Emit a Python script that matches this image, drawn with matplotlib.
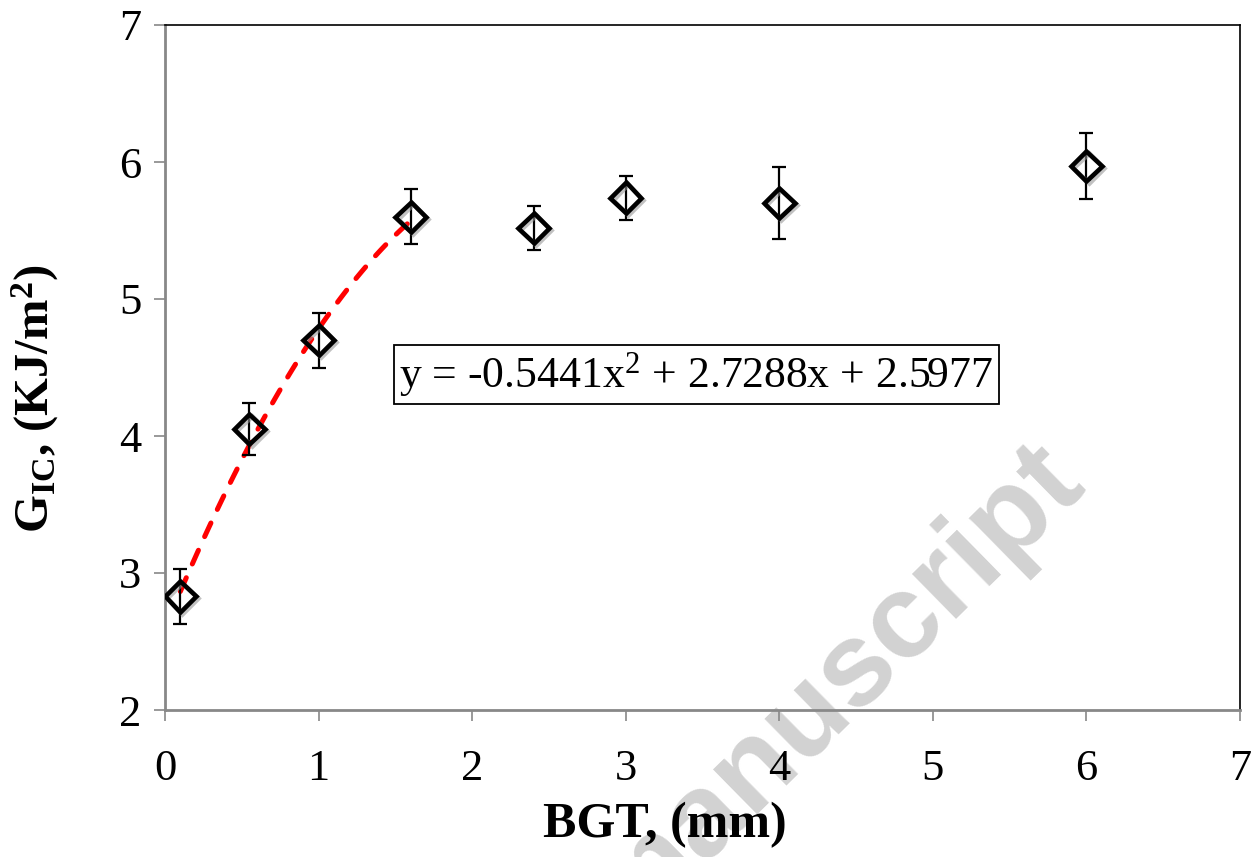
import numpy as np
import matplotlib
matplotlib.use("Agg")
import matplotlib.pyplot as plt
import matplotlib.patheffects as pe

# measured points (BGT in mm, G_IC in kJ/m^2) and error bar half-widths
bgt = [0.1, 0.55, 1.0, 1.6, 2.4, 3.0, 4.0, 6.0]
gic = [2.83, 4.05, 4.70, 5.60, 5.52, 5.74, 5.70, 5.97]
gic_err = [0.20, 0.19, 0.20, 0.20, 0.16, 0.16, 0.26, 0.24]

# polynomial trendline shown on the chart, drawn over the first four points
fit_coef = [-0.5441, 2.7288, 2.5977]
fit_range = [0.1, 1.6]

xticks = [0, 1, 2, 3, 4, 5, 6, 7]
yticks = [2, 3, 4, 5, 6, 7]

plt.rcParams['font.family'] = ['Liberation Serif', 'DejaVu Serif']
plt.rcParams['mathtext.fontset'] = 'custom'
plt.rcParams['mathtext.rm'] = 'Liberation Serif'
plt.rcParams['mathtext.bf'] = 'Liberation Serif:bold'
plt.rcParams['mathtext.it'] = 'Liberation Serif:italic'

fig = plt.figure(figsize=(12.55, 8.57), dpi=100, facecolor='white')
ax = fig.add_axes([165 / 1255, 1 - 710 / 857, 1075 / 1255, 685 / 857])
ax.set_facecolor('none')

# watermark behind everything
fig.text(1088 / 1255, 1 - 489 / 857, 'Accepted manuscript', fontsize=86,
         family='Liberation Sans', fontweight='bold', color='#d2d2d2',
         rotation=44.5, rotation_mode='anchor', ha='right', va='baseline',
         zorder=-1)

xf = np.linspace(fit_range[0], fit_range[1], 100)
ax.plot(xf, np.polyval(fit_coef, xf), color='#ff0000', lw=3.6,
        dashes=(3.0, 3.0), dash_capstyle='round', zorder=2)

ax.errorbar(bgt, gic, yerr=gic_err, fmt='none', ecolor='black',
            elinewidth=1.6, capsize=5, capthick=1.6, zorder=3)
ax.plot(bgt, gic, linestyle='none', marker='D', markersize=15.5,
        markerfacecolor='none', markeredgecolor='black', markeredgewidth=3.3,
        zorder=4,
        path_effects=[pe.SimpleLineShadow(offset=(1.5, -1.5), shadow_color='#999999', alpha=0.6),
                      pe.Normal()])

ax.text(3.46, 4.45, r'y = -0.5441x$^{2}$ + 2.7288x + 2.5977', fontsize=31.5,
        ha='center', va='center', zorder=5,
        bbox=dict(boxstyle='square,pad=0.12', facecolor='white',
                  edgecolor='black', linewidth=1.3))

ax.set_xlim(0, 7)
ax.set_ylim(2, 7)
ax.set_xticks(xticks)
ax.set_yticks(yticks)
ax.tick_params(axis='both', direction='out', length=8, width=1.2,
               color='#888888', labelsize=32)
ax.tick_params(axis='x', pad=20)
ax.tick_params(axis='y', pad=9)

for side in ['left', 'bottom']:
    ax.spines[side].set_color('#888888')
    ax.spines[side].set_linewidth(2.0)
for side in ['top', 'right']:
    ax.spines[side].set_color('black')
    ax.spines[side].set_linewidth(1.2)

ax.set_xlabel('BGT, (mm)', fontsize=36, fontweight='bold')
ax.set_ylabel(r'G$_{\mathbf{IC}}$, (KJ/m$^{\mathbf{2}}$)', fontsize=35,
              fontweight='bold')
ax.xaxis.set_label_coords(0.465, -0.134)
ax.yaxis.set_label_coords(-0.097, 0.455)

fig.savefig('out.png', dpi=100, facecolor='white')
